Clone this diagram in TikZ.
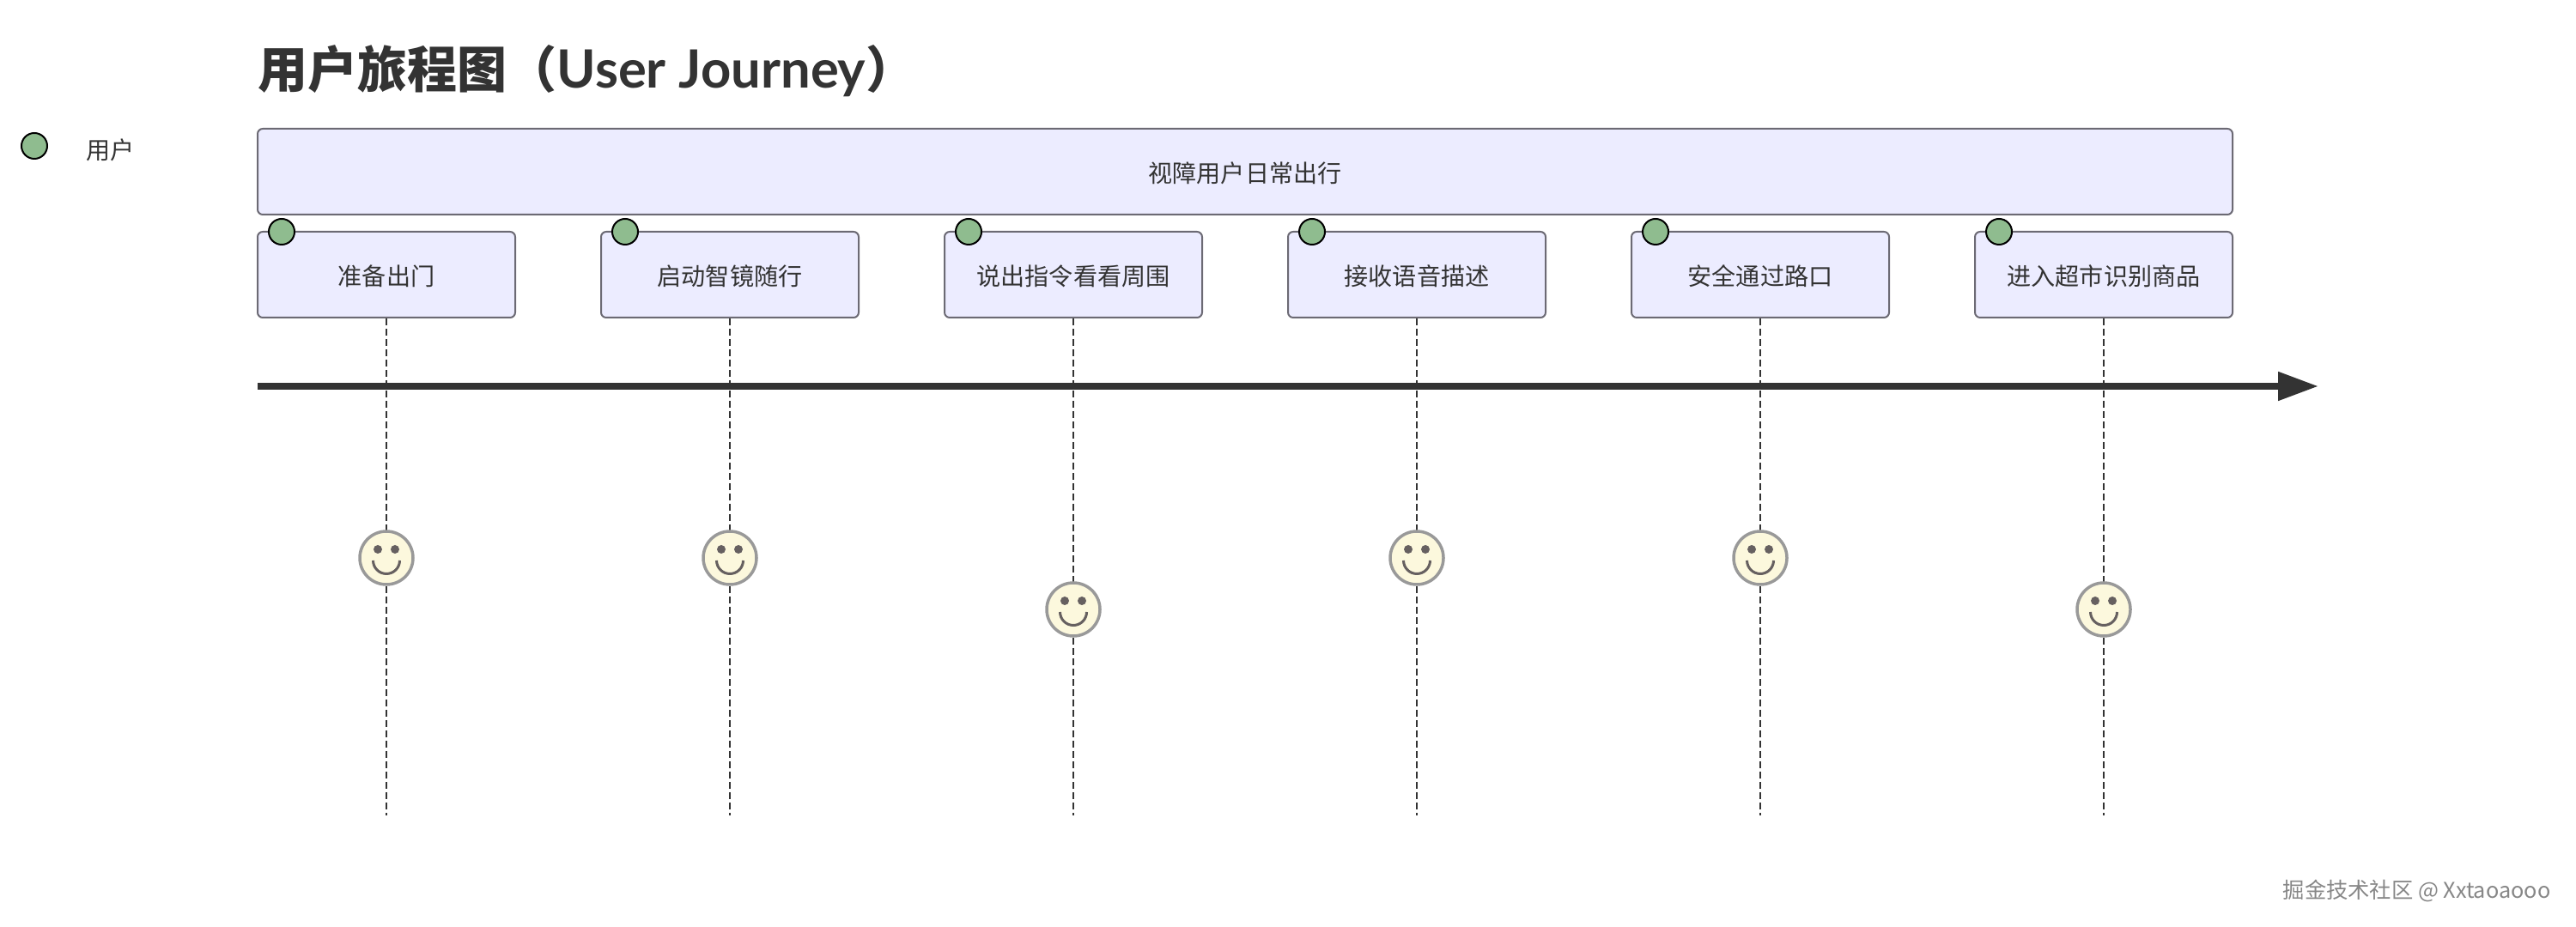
\documentclass[tikz,border=0pt]{standalone}
\usepackage{xcolor}
\usepackage{fontspec}
\setmainfont{Noto Sans CJK SC}
\newfontfamily\latintitle{Lato}
\usepackage{tikz}
\usetikzlibrary{arrows.meta, calc}
\definecolor{boxfill}{RGB}{236, 236, 255}
\definecolor{boxline}{RGB}{108, 106, 116}
\definecolor{textgray}{RGB}{51, 51, 51}
\definecolor{dotgreen}{RGB}{143, 188, 143}
\definecolor{facefill}{RGB}{252, 248, 221}
\definecolor{faceline}{RGB}{153, 153, 153}
\definecolor{facemark}{RGB}{102, 96, 96}
\definecolor{markgray}{RGB}{135, 135, 135}
\tikzset{
    sectionbox/.style={draw=boxline, fill=boxfill, line width=0.02cm, rounded corners=0.06cm,
        minimum width=23cm, minimum height=1cm, inner sep=0pt, text=textgray,
        text height=7.8pt, text depth=0.9pt, font=\fontsize{8}{10}\selectfont},
    taskbox/.style={sectionbox, minimum width=3cm},
    actordot/.style={circle, draw=black, fill=dotgreen, line width=0.02cm, minimum size=0.3cm, inner sep=0pt},
    taskline/.style={line width=0.02cm, textgray, dash pattern=on 0.08cm off 0.04cm},
    smileface/.style={circle, draw=faceline, fill=facefill, line width=0.035cm, minimum size=0.62cm, inner sep=0pt,
        path picture={
            \fill[facemark] ($(path picture bounding box.center)+(-0.1,0.1)$) circle (0.05);
            \fill[facemark] ($(path picture bounding box.center)+(0.1,0.1)$) circle (0.05);
            \draw[facemark, line width=0.03cm] ($(path picture bounding box.center)+(-0.155,-0.03)$)
                arc[start angle=180, end angle=360, radius=0.155];
        }},
}

\begin{document}
\begin{tikzpicture}
    \useasboundingbox (0,0) rectangle (30,10.8);

    % Title
    \node[anchor=west, inner sep=0pt, text=textgray] (title) at (3,9.97) {\fontsize{16.5}{20}\selectfont\bfseries 用户旅程图（{\latintitle\fontsize{17.5}{20}\selectfont User Journey}）};

    % Legend
    \node[actordot] (legenddot) at (0.4,9.1) {};
    \node[anchor=west, inner sep=0pt, text=textgray] (legendtext) at (1,9.05) {\fontsize{8}{10}\selectfont 用户};

    % Time axis
    \coordinate (axisstart) at (3,6.3);
    \coordinate (axisend) at (27,6.3);
    \draw[-{Triangle[length=0.47cm, width=0.32cm]}, line width=0.08cm, textgray] (axisstart) -- (axisend);

    % Section
    \node[sectionbox] (section) at (14.5,8.8) {视障用户日常出行};

    % Tasks
    \node[taskbox] (taskone) at (4.5,7.6) {准备出门};
    \node[taskbox] (tasktwo) at (8.5,7.6) {启动智镜随行};
    \node[taskbox] (taskthree) at (12.5,7.6) {说出指令看看周围};
    \node[taskbox] (taskfour) at (16.5,7.6) {接收语音描述};
    \node[taskbox] (taskfive) at (20.5,7.6) {安全通过路口};
    \node[taskbox] (tasksix) at (24.5,7.6) {进入超市识别商品};

    % Actor dots
    \node[actordot] (dotone) at (3.28,8.1) {};
    \node[actordot] (dottwo) at (7.28,8.1) {};
    \node[actordot] (dotthree) at (11.28,8.1) {};
    \node[actordot] (dotfour) at (15.28,8.1) {};
    \node[actordot] (dotfive) at (19.28,8.1) {};
    \node[actordot] (dotsix) at (23.28,8.1) {};

    % Task lines
    \coordinate (endone) at (4.5,1.3);
    \coordinate (endtwo) at (8.5,1.3);
    \coordinate (endthree) at (12.5,1.3);
    \coordinate (endfour) at (16.5,1.3);
    \coordinate (endfive) at (20.5,1.3);
    \coordinate (endsix) at (24.5,1.3);
    \draw[taskline] (taskone.south) -- (endone);
    \draw[taskline] (tasktwo.south) -- (endtwo);
    \draw[taskline] (taskthree.south) -- (endthree);
    \draw[taskline] (taskfour.south) -- (endfour);
    \draw[taskline] (taskfive.south) -- (endfive);
    \draw[taskline] (tasksix.south) -- (endsix);

    % Faces
    \node[smileface] (faceone) at (4.5,4.3) {};
    \node[smileface] (facetwo) at (8.5,4.3) {};
    \node[smileface] (facethree) at (12.5,3.7) {};
    \node[smileface] (facefour) at (16.5,4.3) {};
    \node[smileface] (facefive) at (20.5,4.3) {};
    \node[smileface] (facesix) at (24.5,3.7) {};

    % Watermark
    \node[anchor=east, inner sep=0pt, text=markgray] (watermark) at (29.71,0.42) {\fontsize{7.2}{9}\selectfont 掘金技术社区 @ Xxtaoaooo};
\end{tikzpicture}
\end{document}
